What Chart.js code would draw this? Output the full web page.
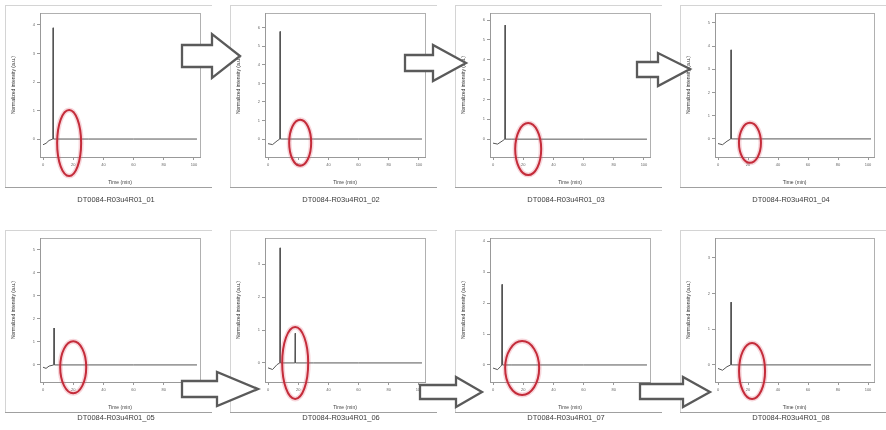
<!DOCTYPE html>
<html>
<head>
<meta charset="utf-8">
<script src="https://cdn.jsdelivr.net/npm/chart.js@4.4.1/dist/chart.umd.min.js"></script>
<style>
  html, body { margin: 0; padding: 0; background: #fff; }
  #wrap { position: relative; width: 886px; height: 430px; overflow: hidden; filter: blur(0.5px); }
  #wrap canvas { position: absolute; }
  #arrows { position: absolute; left: 0; top: 0; }
</style>
</head>
<body>
<div id="wrap">
  <canvas id="p1" width="212" height="205" style="left:0px;top:0px"></canvas>
  <canvas id="p2" width="212" height="205" style="left:225px;top:0px"></canvas>
  <canvas id="p3" width="212" height="205" style="left:450px;top:0px"></canvas>
  <canvas id="p4" width="211" height="205" style="left:675px;top:0px"></canvas>
  <canvas id="p5" width="212" height="205" style="left:0px;top:225px"></canvas>
  <canvas id="p6" width="212" height="205" style="left:225px;top:225px"></canvas>
  <canvas id="p7" width="212" height="205" style="left:450px;top:225px"></canvas>
  <canvas id="p8" width="211" height="205" style="left:675px;top:225px"></canvas>
  <svg id="arrows" width="886" height="430">
    <g fill="#fff" stroke="#5a5a5a" stroke-width="2.3" stroke-linejoin="miter">
      <polygon points="182,45 212,45 212,34 240,56 212,78 212,67 182,67"/>
      <polygon points="405,55 433,55 433,45 466,63 433,81 433,71 405,71"/>
      <polygon points="637,62 658,62 658,53 690,69 658,86 658,77 637,77"/>
      <polygon points="182,381 217,381 217,372 258,389 217,406 217,397 182,397"/>
      <polygon points="420,385 456,385 456,377 482,392 456,407 456,399 420,399"/>
      <polygon points="640,384 683,384 683,377 710,392 683,407 683,399 640,399"/>
    </g>
  </svg>
</div>
<script>
// sample names under each panel
const sampleNames = [
  'DT0084-R03u4R01_01', 'DT0084-R03u4R01_02', 'DT0084-R03u4R01_03', 'DT0084-R03u4R01_04',
  'DT0084-R03u4R01_05', 'DT0084-R03u4R01_06', 'DT0084-R03u4R01_07', 'DT0084-R03u4R01_08'
];

// x tick labels shared by all panels
const xTickValues = [0, 20, 40, 60, 80, 100];

// traces, one pair of arrays per panel
const time1 = [0, 2, 4, 6.5, 6.7, 6.9, 10, 30, 60, 102];
const signal1 = [-0.2, -0.15, -0.05, 0, 3.9, 0, 0, 0, 0, 0];
const time2 = [0, 3, 6, 7.8, 8, 8.2, 12, 30, 60, 102];
const signal2 = [-0.25, -0.3, -0.1, 0, 5.8, 0, 0, 0, 0, 0];
const time3 = [0, 3, 6, 7.8, 8, 8.2, 12, 30, 60, 102];
const signal3 = [-0.2, -0.25, -0.1, 0, 5.75, 0, 0, 0, 0, 0];
const time4 = [0, 3, 6, 8.5, 8.7, 8.9, 12, 30, 60, 102];
const signal4 = [-0.2, -0.25, -0.1, 0, 3.84, 0, 0, 0, 0, 0];
const time5 = [0, 2, 4, 7.1, 7.3, 7.5, 10, 30, 60, 102];
const signal5 = [-0.1, -0.15, -0.05, 0, 1.6, 0, 0, 0, 0, 0];
const time6 = [0, 3, 6, 7.8, 8, 8.2, 17.8, 18, 18.2, 30, 60, 102];
const signal6 = [-0.15, -0.2, -0.05, 0, 3.5, 0, 0, 0.9, 0, 0, 0, 0];
const time7 = [0, 3, 5, 5.8, 6, 6.2, 12, 30, 60, 102];
const signal7 = [-0.1, -0.15, -0.05, 0, 2.6, 0, 0, 0, 0, 0];
const time8 = [0, 3, 6, 8.5, 8.7, 8.9, 12, 30, 60, 102];
const signal8 = [-0.1, -0.15, -0.05, 0, 1.76, 0, 0, 0, 0, 0];

// y tick labels per panel
const yTicks1 = [0, 1, 2, 3, 4];
const yTicks2 = [0, 1, 2, 3, 4, 5, 6];
const yTicks3 = [0, 1, 2, 3, 4, 5, 6];
const yTicks4 = [0, 1, 2, 3, 4, 5];
const yTicks5 = [0, 1, 2, 3, 4, 5];
const yTicks6 = [0, 1, 2, 3];
const yTicks7 = [0, 1, 2, 3, 4];
const yTicks8 = [0, 1, 2, 3];

// the red circled region in each panel (x, y in data units)
const markTime = [17.3, 21.3, 23.3, 21.3, 20, 18, 19.3, 22.7];
const markSignal = [-0.14, -0.2, -0.5, -0.17, -0.1, 0, -0.1, -0.17];

const panels = [
  {id: 'p1', x: time1, y: signal1, yTicks: yTicks1, yMin: -0.63, yMax: 4.42, rx: 12, ry: 33, cap: 200},
  {id: 'p2', x: time2, y: signal2, yTicks: yTicks2, yMin: -0.97, yMax: 6.8, rx: 11, ry: 23, cap: 200},
  {id: 'p3', x: time3, y: signal3, yTicks: yTicks3, yMin: -0.9, yMax: 6.36, rx: 13, ry: 26, cap: 200},
  {id: 'p4', x: time4, y: signal4, yTicks: yTicks4, yMin: -0.78, yMax: 5.43, rx: 11, ry: 20, cap: 200},
  {id: 'p5', x: time5, y: signal5, yTicks: yTicks5, yMin: -0.74, yMax: 5.5, rx: 13, ry: 26, cap: 193},
  {id: 'p6', x: time6, y: signal6, yTicks: yTicks6, yMin: -0.58, yMax: 3.8, rx: 13, ry: 36, cap: 193},
  {id: 'p7', x: time7, y: signal7, yTicks: yTicks7, yMin: -0.55, yMax: 4.1, rx: 17, ry: 27, cap: 193},
  {id: 'p8', x: time8, y: signal8, yTicks: yTicks8, yMin: -0.48, yMax: 3.56, rx: 13, ry: 28, cap: 193}
];

const font = "'Liberation Sans', Arial, sans-serif";

const panelDecor = {
  id: 'panelDecor',
  beforeDraw(chart) {
    const ctx = chart.ctx;
    const a = chart.chartArea;
    ctx.save();
    // outer panel frame
    ctx.strokeStyle = '#d4d4d4';
    ctx.lineWidth = 1;
    ctx.strokeRect(5.5, 5.5, 207, 182);
    ctx.strokeStyle = '#a0a0a0';
    ctx.beginPath();
    ctx.moveTo(5, 187.5);
    ctx.lineTo(213, 187.5);
    ctx.stroke();
    // plot box
    ctx.strokeStyle = '#b0b0b0';
    ctx.strokeRect(a.left + 0.5, a.top + 0.5, a.right - a.left, a.bottom - a.top);
    ctx.restore();
  },
  afterDraw(chart, args, opts) {
    const ctx = chart.ctx;
    const i = opts.index;
    const p = panels[i];
    const cx = chart.scales.x.getPixelForValue(markTime[i]);
    const cy = chart.scales.y.getPixelForValue(markSignal[i]);
    ctx.save();
    ctx.strokeStyle = 'rgba(225,90,110,0.25)';
    ctx.lineWidth = 5;
    ctx.beginPath();
    ctx.ellipse(cx, cy, p.rx, p.ry, 0, 0, Math.PI * 2);
    ctx.stroke();
    ctx.strokeStyle = '#c42c3a';
    ctx.lineWidth = 2;
    ctx.beginPath();
    ctx.ellipse(cx, cy, p.rx, p.ry, 0, 0, Math.PI * 2);
    ctx.stroke();
    // caption
    ctx.fillStyle = '#3c3c3c';
    ctx.font = '7.5px ' + font;
    ctx.textAlign = 'center';
    ctx.textBaseline = 'middle';
    ctx.fillText(sampleNames[i], 116, p.cap);
    ctx.restore();
  }
};

panels.forEach(function (p, i) {
  new Chart(document.getElementById(p.id), {
    type: 'line',
    data: {
      datasets: [{
        data: p.x.map((t, k) => ({x: t, y: p.y[k]})),
        borderColor: '#555',
        borderWidth: 1,
        pointRadius: 0,
        tension: 0
      }]
    },
    options: {
      responsive: false,
      animation: false,
      events: [],
      layout: {padding: {left: 10, top: 13, right: 12, bottom: 18}},
      plugins: {
        legend: {display: false},
        tooltip: {enabled: false},
        panelDecor: {index: i}
      },
      scales: {
        x: {
          type: 'linear',
          min: -2,
          max: 104,
          afterBuildTicks: s => { s.ticks = xTickValues.map(v => ({value: v})); },
          afterFit: s => { s.height = 30; },
          ticks: {font: {size: 4, family: font}, color: '#666', padding: 2, maxRotation: 0},
          grid: {drawOnChartArea: false, tickLength: 3, color: '#999'},
          border: {color: '#999'},
          title: {display: true, text: 'Time (min)', font: {size: 5, family: font}, color: '#444', padding: 1}
        },
        y: {
          min: p.yMin,
          max: p.yMax,
          afterBuildTicks: s => { s.ticks = p.yTicks.map(v => ({value: v})); },
          afterFit: s => { s.width = 30; },
          ticks: {font: {size: 4, family: font}, color: '#666', padding: 2},
          grid: {drawOnChartArea: false, tickLength: 3, color: '#999'},
          border: {color: '#999'},
          title: {display: true, text: 'Normalized intensity (a.u.)', font: {size: 5, family: font}, color: '#333', padding: 1}
        }
      }
    },
    plugins: [panelDecor]
  });
});
</script>
</body>
</html>
